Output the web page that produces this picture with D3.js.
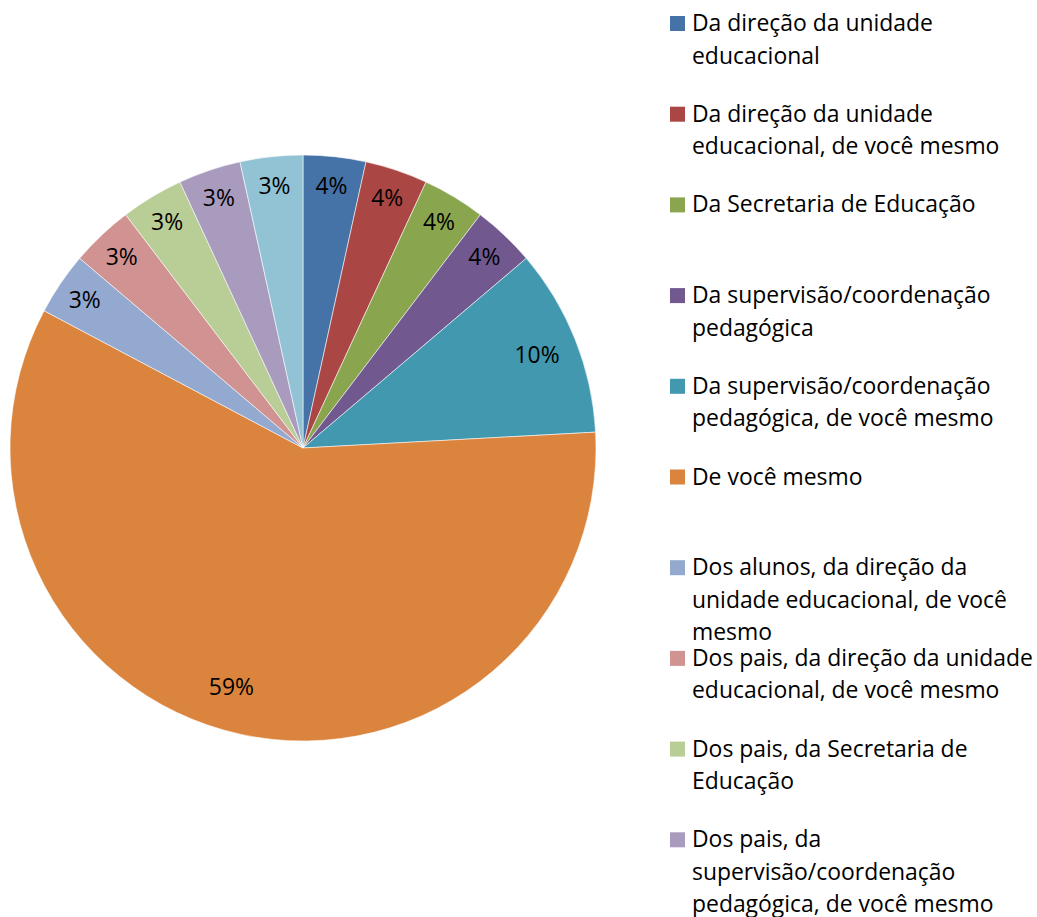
<!DOCTYPE html>
<html>
<head>
<meta charset="utf-8">
<script src="https://cdn.jsdelivr.net/npm/d3@7"></script>
<style>
  html, body { margin: 0; padding: 0; background: #ffffff; }
  svg { display: block; }
</style>
</head>
<body>
<svg id="chart" width="1037" height="917"></svg>
<script>
// ---- data ----
const categories = [
  "Da direção da unidade educacional",
  "Da direção da unidade educacional, de você mesmo",
  "Da Secretaria de Educação",
  "Da supervisão/coordenação pedagógica",
  "Da supervisão/coordenação pedagógica, de você mesmo",
  "De você mesmo",
  "Dos alunos, da direção da unidade educacional, de você mesmo",
  "Dos pais, da direção da unidade educacional, de você mesmo",
  "Dos pais, da Secretaria de Educação",
  "Dos pais, da supervisão/coordenação pedagógica, de você mesmo",
  "Dos pais, de você mesmo"
];
const values = [1, 1, 1, 1, 3, 17, 1, 1, 1, 1, 1];
const valueLabels = ["4%", "4%", "4%", "4%", "10%", "59%", "3%", "3%", "3%", "3%", "3%"];
const colors = ["#4572A7", "#AA4643", "#89A54E", "#71588F", "#4198AF", "#DB843D",
                "#93A9CF", "#D19392", "#B9CD96", "#A99BBD", "#92C3D5"];

// ---- layout ----
const svg = d3.select("#chart");
const FONT = "'Open Sans', 'Noto Sans', sans-serif";
const cx = 303, cy = 448, R = 293;

// calibrate font size so text widths resemble the reference (Calibri)
const probe = svg.append("text").attr("font-family", FONT).attr("font-size", 20)
  .text("Dos pais, da direção da unidade");
const probeW = probe.node().getComputedTextLength();
probe.remove();
const fs = 20 * 341 / probeW;

const color = d3.scaleOrdinal().domain(categories).range(colors);
const pie = d3.pie().sort(null).value(d => d.value);
const data = categories.map((c, i) => ({ name: c, value: values[i], label: valueLabels[i] }));
const arcs = pie(data);
const arc = d3.arc().innerRadius(0).outerRadius(R);

const g = svg.append("g").attr("transform", `translate(${cx},${cy})`);
g.selectAll("path.slice").data(arcs).enter().append("path")
  .attr("class", "slice")
  .attr("d", arc)
  .attr("fill", d => color(d.data.name))
  .attr("stroke", "#ffffff")
  .attr("stroke-width", 0.8)
  .attr("stroke-opacity", 0.7);

g.selectAll("text.lbl").data(arcs).enter().append("text")
  .attr("class", "lbl")
  .attr("transform", d => {
    const frac = (d.endAngle - d.startAngle) / (2 * Math.PI);
    const r = frac > 0.3 ? R * 0.85 : (frac > 0.08 ? R * 0.86 : R * 0.9);
    let a = (d.startAngle + d.endAngle) / 2;
    if (frac > 0.3) a += 0.075;
    return `translate(${Math.sin(a) * r},${-Math.cos(a) * r})`;
  })
  .attr("text-anchor", "middle")
  .attr("dy", "0.35em")
  .attr("font-family", FONT)
  .attr("font-size", fs)
  .attr("fill", "#000000")
  .text(d => d.data.label);

// ---- legend ----
const legX = 670, textX = 692, firstBase = 31, step = 90.7, lineH = 32.5, maxW = 352;
const leg = svg.append("g");
categories.forEach((name, i) => {
  const base = firstBase + i * step;
  leg.append("rect")
    .attr("x", legX).attr("y", base - 15)
    .attr("width", 15).attr("height", 15)
    .attr("fill", color(name));
  const t = leg.append("text")
    .attr("x", textX).attr("y", base)
    .attr("font-family", FONT).attr("font-size", fs).attr("fill", "#000000");
  // wrap words
  const words = name.split(" ");
  let line = [];
  let lineNo = 0;
  let ts = t.append("tspan").attr("x", textX).attr("y", base);
  words.forEach(w => {
    line.push(w);
    ts.text(line.join(" "));
    if (ts.node().getComputedTextLength() > maxW && line.length > 1) {
      line.pop();
      ts.text(line.join(" "));
      line = [w];
      lineNo++;
      ts = t.append("tspan").attr("x", textX).attr("y", base + lineNo * lineH).text(w);
    }
  });
});
</script>
</body>
</html>
